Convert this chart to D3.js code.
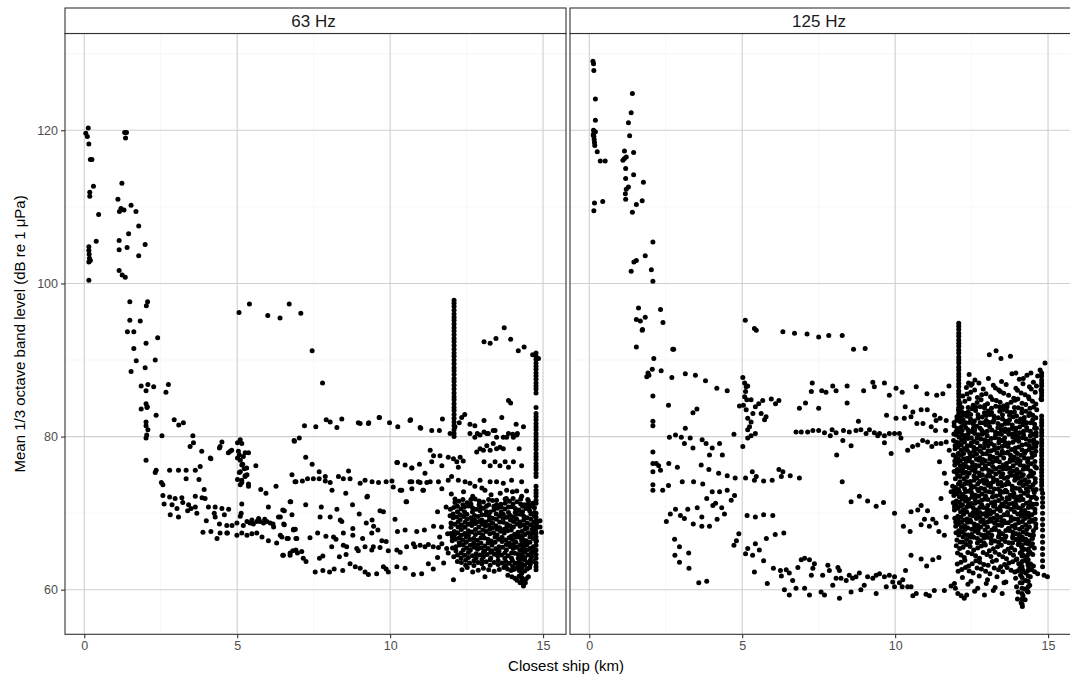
<!DOCTYPE html>
<html>
<head>
<meta charset="utf-8">
<script src="https://cdn.jsdelivr.net/npm/d3@7"></script>
<style>
  html, body { margin: 0; padding: 0; background: #ffffff; }
  svg { display: block; font-family: "Liberation Sans", Arial, sans-serif; }
</style>
</head>
<body>
<script>
// Facets, axis ticks
const facetLabels = ["63 Hz", "125 Hz"];
const xTickValues = [0, 5, 10, 15];
const yTickValues = [60, 80, 100, 120];
const xMinorValues = [2.5, 7.5, 12.5];
const yMinorValues = [70, 90, 110, 130];

// 63 Hz band: scattered readings, flat list of distance (km), level (dB) pairs
const level63 = [
  0.13,120.3, 0.05,119.6, 0.10,119.2, 0.15,118.2, 0.20,116.2, 0.25,116.2, 0.30,112.7, 0.18,111.9, 0.18,111.4, 0.47,109.0, 0.39,105.5, 0.15,104.8, 0.15,104.3, 0.16,103.8, 0.17,103.3, 0.15,102.8, 0.20,103.0, 0.15,100.4,
  1.32,119.7, 1.38,119.7, 1.35,119.0, 1.23,113.1, 1.10,111.0, 1.53,110.2, 1.20,109.8, 1.15,109.4, 1.30,109.6, 1.69,109.4, 1.78,107.5, 1.45,106.5, 1.14,105.6, 1.14,104.4, 1.40,104.7, 1.99,105.1, 1.78,103.6, 1.14,101.7, 1.24,101.1, 1.34,100.8,
  1.49,97.6, 2.07,97.6, 2.03,97.1, 1.49,95.2, 1.83,95.1, 1.41,93.7, 1.62,93.7, 2.40,92.9, 2.02,92.2, 1.62,91.5, 2.32,90.0, 1.70,89.9, 1.99,89.0, 1.53,88.5, 1.86,86.6, 2.08,86.8, 2.27,86.5, 2.75,86.8, 2.02,86.0, 2.67,85.8, 2.02,84.3, 2.05,83.8, 1.86,83.6, 2.06,83.9, 2.35,82.8, 2.94,82.2, 3.09,81.5, 3.24,81.8, 2.02,81.9, 2.08,80.9, 2.02,81.4, 2.54,80.1, 3.55,80.1, 2.02,79.8, 2.04,80.2,
  3.46,78.7, 3.84,78.1, 4.50,79.3, 4.42,78.5, 4.77,78.1, 4.14,77.1, 2.02,76.9, 2.35,75.6, 2.32,75.3, 2.79,75.6, 3.08,75.6, 3.33,75.6, 3.63,75.6, 3.79,76.1, 3.33,74.5, 3.75,74.4, 2.52,74.0, 2.57,73.7, 3.92,73.1, 2.57,72.3, 2.79,72.1, 2.97,71.9, 3.19,72.0, 3.63,72.2, 3.85,72.0, 3.95,71.9,
  2.61,71.2, 2.87,71.1, 3.03,70.6, 3.22,71.4, 3.41,71.1, 3.49,70.6, 3.63,70.8, 3.68,70.0, 4.06,70.8, 4.28,70.8, 4.50,70.6, 4.72,70.5, 2.81,69.8, 3.08,69.5, 3.38,70.3, 4.25,70.0, 4.28,69.5, 4.58,69.8, 3.99,69.0, 4.42,68.6, 3.88,67.5, 4.14,67.6, 4.34,66.7, 4.68,67.4,
  4.12,77.2, 3.57,79.2, 4.44,78.7, 4.71,77.9, 4.82,78.2,
  5.10,79.6, 5.15,79.1, 5.01,79.2, 5.04,78.1, 5.07,77.6, 5.20,77.4, 5.10,76.9, 5.15,76.3, 5.23,75.8, 5.10,75.4, 5.32,75.0, 5.15,74.3, 5.10,73.7, 5.37,73.5, 5.26,74.8, 5.26,77.9, 5.37,77.9, 5.01,77.2, 5.18,76.4, 5.31,75.9, 5.07,75.3, 5.26,74.9, 5.37,73.8, 5.15,74.0, 5.61,76.2, 5.01,74.4, 5.15,71.2, 5.13,70.0, 5.10,69.6,
  5.77,73.1, 5.94,72.6, 6.27,73.5, 6.02,70.8, 6.49,70.4, 6.73,71.5, 6.79,75.0, 6.89,74.1, 6.87,79.4, 7.03,79.8,
  5.32,68.9, 5.42,68.7, 5.53,68.6, 5.64,68.9, 5.75,68.9, 5.86,68.7, 5.97,68.9, 6.08,68.7, 6.19,68.2, 4.66,68.4, 4.83,68.4, 4.99,68.7, 5.20,68.4, 5.48,69.1, 5.70,69.3, 5.90,69.2,
  4.99,67.1, 5.15,67.4, 5.32,67.1, 5.48,67.3, 5.64,67.4, 5.81,66.9, 6.02,66.4, 6.29,66.1, 6.46,66.9, 6.67,66.7, 6.84,67.9, 6.95,66.7, 4.44,67.4, 4.66,67.4,
  6.49,64.5, 6.73,64.8, 6.82,65.1, 6.97,64.8, 6.17,68.6, 6.35,69.5, 6.52,68.6, 6.79,69.8, 6.90,67.9,
  5.06,96.2, 5.40,97.3, 6.00,95.8, 6.40,95.5, 6.70,97.3, 7.08,96.1, 7.45,91.2, 7.79,87.0,
  7.20,81.4, 7.57,81.3, 7.91,82.2, 8.04,81.9, 8.26,81.2, 8.42,82.3, 8.96,81.8, 9.30,81.8, 9.65,82.5, 9.98,81.8, 10.25,81.3, 10.67,82.2, 10.98,81.2, 11.36,80.8, 11.61,80.8, 11.71,82.3, 6.86,79.5,
  7.24,77.3, 7.45,76.4,
  6.92,74.1, 7.13,74.2, 7.30,74.5, 7.49,74.5, 7.68,75.4, 7.68,74.5, 7.88,74.8, 7.88,74.2, 8.04,74.0, 8.10,73.0, 8.31,74.8, 8.47,74.5, 8.64,75.5, 8.69,74.5, 8.55,72.6, 9.02,73.9, 9.18,74.3, 9.26,72.2, 9.41,74.1, 9.62,74.0, 9.87,74.1, 10.06,74.2, 10.10,73.4, 10.24,76.6, 10.38,73.0, 10.49,76.3, 10.52,71.5, 10.71,75.9, 10.71,74.1, 10.71,73.2, 10.96,76.4, 10.98,74.0, 11.07,73.0, 11.20,74.0,
  6.75,71.5, 6.54,70.3, 7.24,71.1, 7.75,70.8, 8.26,70.5, 8.77,71.1, 9.67,70.3, 9.78,70.2, 8.99,69.9, 10.16,69.2, 11.55,70.2, 11.83,70.8,
  6.41,69.5, 6.54,68.5, 7.71,69.5, 8.04,69.5, 8.37,69.1, 8.42,68.9, 9.41,69.1, 9.46,68.3, 9.22,68.7,
  6.84,67.8, 7.63,67.4, 7.38,66.8, 6.41,67.1, 6.63,66.7, 6.92,66.7, 7.90,67.0, 8.15,66.9, 8.23,66.6, 8.47,67.4, 8.78,68.0, 8.78,67.1, 9.10,66.7, 9.40,67.4, 9.60,67.8, 10.24,67.6, 10.49,67.8, 10.87,67.6, 11.12,67.8, 11.42,68.3, 11.68,68.2,
  6.51,64.5, 6.73,64.5, 6.92,65.2, 7.11,65.0, 7.25,63.7, 7.16,64.1, 7.69,64.1, 7.80,64.4, 8.09,65.6, 8.34,64.3, 8.47,65.8, 8.58,65.6, 8.56,64.6, 8.91,65.4, 8.96,65.1, 9.18,65.6, 9.45,65.6, 9.40,65.2, 9.67,65.5, 9.73,66.4, 9.87,66.3, 9.94,65.1, 10.22,65.2, 10.33,64.9, 10.54,65.6, 10.76,66.0, 10.81,65.6, 10.98,65.8, 11.14,65.6, 11.25,65.9, 11.41,65.6, 11.58,65.5, 11.69,66.0, 11.85,65.4,
  7.55,62.3, 7.80,62.5, 8.02,62.3, 8.17,62.7, 8.45,62.5, 8.69,63.4, 8.86,63.0, 9.02,62.8, 9.18,62.3, 9.29,62.0, 9.56,62.1, 9.78,63.0, 9.87,62.7, 9.94,62.3, 10.22,63.0, 10.49,62.8, 10.76,62.0, 11.03,62.1, 11.25,63.4, 11.41,62.7, 12.07,61.3,
  13.07,92.4, 13.27,92.2, 13.46,92.8, 13.73,94.2, 13.94,92.7, 14.19,91.2, 14.38,91.7, 14.66,90.7, 14.85,90.2, 13.87,84.7, 13.94,84.4,
  9.02,81.7, 9.29,81.7, 9.64,82.5, 10.65,82.1, 11.00,81.1, 11.96,80.4, 12.12,81.3, 12.26,81.8, 12.34,82.5, 12.44,82.9, 12.61,81.6, 12.77,81.4, 12.85,80.4, 13.07,82.1, 13.16,80.4, 13.43,80.8, 13.65,82.5, 13.81,79.9, 14.01,80.3, 14.12,81.6, 14.16,80.4, 14.36,81.3,
  11.31,78.2, 11.42,77.5, 11.36,76.7, 11.63,77.5, 11.69,76.2, 11.90,77.3, 12.07,77.1, 12.18,76.7, 12.29,77.3, 12.39,76.8, 12.23,76.0, 12.83,78.0, 12.94,78.4, 13.05,78.2, 13.16,78.8, 13.27,78.2, 13.37,79.1, 13.48,78.4, 13.59,78.6, 13.70,78.4, 13.07,76.7, 13.27,76.2, 13.43,76.7, 13.59,76.2, 13.76,76.7, 13.87,76.0, 14.03,76.7, 14.22,78.4, 14.30,76.2, 12.61,80.4, 12.77,79.9, 12.94,80.2, 13.07,80.6, 13.21,80.4, 13.37,80.8, 13.48,79.9, 13.70,79.9, 13.87,80.4, 14.03,79.9, 14.14,80.2,
  10.22,76.6, 10.71,75.9, 11.14,75.2, 11.31,74.1, 11.58,74.1, 11.69,73.2, 11.90,74.3, 12.01,74.8, 12.23,74.3, 12.45,74.1, 12.61,73.9, 12.77,73.5, 12.94,74.3, 13.10,73.0, 13.27,74.1, 13.48,74.1, 13.70,73.9, 13.81,73.0, 13.97,74.3, 14.14,72.9, 14.30,74.1, 14.46,72.9, 10.33,73.0, 10.65,74.1, 10.92,74.1, 11.09,73.0, 10.54,71.5, 9.24,72.1,
  12.00,72.5, 12.40,72.8, 12.70,72.2, 13.00,73.3, 13.30,72.4, 13.60,72.6, 13.80,71.9, 14.00,72.8, 14.30,72.2, 14.50,71.8, 14.90,69.0, 14.90,68.2, 14.95,67.5,
  11.55,64.2, 11.75,63.5, 11.90,64.8, 11.62,66.9, 11.88,67.3
];

// 63 Hz band: near-vertical runs of readings at one distance, [distance, level, level, ...]
const column63 = [
  [12.09, 97.8, 97.4, 97.0, 96.5, 96.0, 95.6, 95.2, 94.7, 94.2, 93.8, 93.3, 92.8, 92.4, 91.9, 91.4, 90.9, 90.5, 90.0, 89.5, 89.0, 88.6, 88.1, 87.6, 87.2, 86.7, 86.2, 85.7, 85.2, 84.8, 84.3, 83.8, 83.4, 82.9, 82.4, 81.9, 81.4, 80.9, 80.4, 80.0],
  [14.77, 90.9, 90.5, 90.1, 89.6, 89.2, 88.8, 88.3, 87.9, 87.5, 87.0, 86.6, 86.2, 85.7, 83.8, 83.0, 82.6, 82.2, 81.7, 81.3, 80.9, 80.4, 80.0, 79.6, 79.1, 78.7, 78.3, 77.8, 77.4, 77.0, 76.5, 76.1, 75.7, 75.2, 74.8, 73.5, 73.0, 72.6, 72.2, 71.7, 71.3, 70.0, 69.5, 69.0, 68.5, 68.0, 67.4, 66.9, 66.3, 65.8, 65.2, 64.6, 64.1, 63.5, 63.0, 62.6],
  [14.30, 67.0, 66.4, 65.8, 65.2, 64.6, 64.0, 63.4, 62.8, 62.2, 61.6, 61.0]
];

// 63 Hz band: dense readings between 12 and 15 km, flat distance, level pairs
const cluster63 = [
  12.12,71.4, 12.38,71.8, 12.64,71.2, 12.91,71.6, 13.22,71.1, 13.48,71.7, 13.76,71.3, 14.02,71.9, 14.27,71.2, 14.52,71.6,
  11.97,70.5, 12.20,70.9, 12.43,70.2, 12.69,70.7, 12.94,70.3, 13.15,70.9, 13.39,70.4, 13.63,70.8, 13.87,70.1, 14.09,70.6, 14.33,70.9, 14.56,70.3, 14.72,70.7,
  12.06,69.4, 12.29,69.8, 12.51,69.2, 12.76,69.7, 13.00,69.1, 13.24,69.6, 13.47,69.9, 13.70,69.3, 13.93,69.7, 14.14,69.2, 14.37,69.6, 14.60,69.9,
  11.99,68.7, 12.22,68.2, 12.45,68.8, 12.67,68.4, 12.90,68.9, 13.12,68.3, 13.35,68.7, 13.58,68.1, 13.81,68.6, 14.03,68.9, 14.25,68.3, 14.48,68.7, 14.70,68.2,
  12.10,67.6, 12.33,67.1, 12.56,67.7, 12.79,67.2, 13.03,67.8, 13.26,67.3, 13.50,67.9, 13.73,67.4, 13.96,67.0, 14.18,67.5, 14.41,67.9, 14.64,67.3,
  12.03,66.4, 12.26,66.8, 12.49,66.2, 12.73,66.7, 12.97,66.1, 13.20,66.6, 13.43,66.9, 13.66,66.3, 13.89,66.8, 14.11,66.2, 14.34,66.6, 14.57,66.9, 14.78,66.4,
  12.15,65.6, 12.39,65.2, 12.62,65.8, 12.86,65.3, 13.09,65.7, 13.33,65.1, 13.56,65.6, 13.80,65.9, 14.02,65.4, 14.24,65.8, 14.47,65.2, 14.68,65.6,
  12.08,64.3, 12.32,64.8, 12.56,64.2, 12.81,64.7, 13.05,64.3, 13.29,64.9, 13.52,64.4, 13.75,64.8, 13.97,64.1, 14.19,64.6, 14.40,64.9, 14.62,64.3,
  12.20,63.7, 12.47,63.2, 12.74,63.8, 13.00,63.4, 13.27,63.9, 13.53,63.3, 13.78,63.7, 14.00,63.1, 14.20,63.6, 14.40,63.9, 14.58,63.3,
  12.35,62.6, 12.70,62.3, 13.05,62.8, 13.40,62.4, 13.72,62.9, 13.95,62.5, 14.13,62.8, 14.30,62.2, 14.48,62.7,
  13.10,61.7, 13.85,61.9, 14.08,61.5, 14.22,61.8, 14.38,61.3, 14.52,61.7,
  14.25,60.9, 14.36,60.5, 14.42,60.9,
  12.25,71.55, 12.52,71.35, 12.78,71.85, 13.05,71.45, 13.35,71.65, 13.62,71.15, 13.90,71.55, 14.15,71.5, 14.40,71.1, 14.66,71.3,
  12.08,70.75, 12.32,70.55, 12.56,70.95, 12.81,70.5, 13.05,70.65, 13.27,70.15, 13.51,70.65, 13.75,70.55, 13.98,70.85, 14.21,70.4, 14.44,70.6, 14.66,70.95,
  11.96,69.65, 12.18,69.5, 12.40,69.55, 12.64,69.4, 12.88,69.55, 13.12,69.8, 13.35,69.35, 13.58,69.6, 13.81,69.45, 14.04,69.5, 14.26,69.85, 14.48,69.4, 14.72,69.6,
  12.11,68.55, 12.33,68.45, 12.56,68.55, 12.79,68.65, 13.01,68.55, 13.24,68.45, 13.46,68.35, 13.70,68.8, 13.92,68.35, 14.14,68.6, 14.37,68.45, 14.59,68.5, 14.80,68.8,
  11.98,67.35, 12.21,67.45, 12.44,67.35, 12.67,67.55, 12.91,67.45, 13.14,67.6, 13.38,67.45, 13.61,67.65, 13.85,67.7, 14.07,67.25, 14.30,67.6, 14.52,67.45, 14.75,67.7,
  12.14,66.6, 12.37,66.45, 12.61,66.55, 12.85,66.45, 13.08,66.75, 13.31,66.35, 13.55,66.6, 13.78,66.5, 14.00,66.55, 14.23,66.85, 14.45,66.4, 14.68,66.7,
  12.04,65.45, 12.27,65.85, 12.50,65.45, 12.74,65.55, 12.98,65.45, 13.21,65.4, 13.45,65.35, 13.68,65.55, 13.91,65.65, 14.13,65.55, 14.36,65.5, 14.58,65.4,
  12.20,64.55, 12.44,64.5, 12.69,64.45, 12.93,64.55, 13.17,64.6, 13.41,64.65, 13.64,64.55, 13.86,64.45, 14.08,64.75, 14.30,64.4, 14.51,64.55, 14.72,64.75,
  12.33,63.55, 12.60,63.5, 12.87,63.55, 13.14,63.65, 13.40,63.55, 13.66,63.5, 13.89,63.45, 14.10,63.45, 14.30,63.3, 14.49,63.55, 14.68,63.7,
  12.52,62.9, 12.88,62.55, 13.22,62.6, 13.57,62.65, 13.84,62.7, 14.04,62.65, 14.22,62.5, 14.40,62.45, 14.56,62.9,
  13.98,61.7, 14.15,61.25, 14.30,61.55, 14.45,61.45,
  12.12,71.85, 12.38,71.1, 12.64,71.8, 12.91,71.1, 13.22,71.8, 13.48,71.1, 13.76,71.85, 14.02,71.2, 14.27,71.85, 14.52,71.1,
  12.20,70.2, 12.43,70.85, 12.69,70.15, 12.94,70.85, 13.15,70.2, 13.39,70.9, 13.63,70.15, 13.87,70.8, 14.09,70.1, 14.33,70.2, 14.56,70.85, 14.72,70.1,
  12.06,69.9, 12.29,69.15, 12.51,69.85, 12.76,69.1, 13.00,69.8, 13.24,69.1, 13.47,69.2, 13.70,69.85, 13.93,69.1, 14.14,69.85, 14.37,69.1, 14.60,69.2,
  11.99,68.15, 12.22,68.85, 12.45,68.15, 12.67,68.9, 12.90,68.2, 13.12,68.85, 13.35,68.1, 13.58,68.85, 13.81,68.1, 14.03,68.2, 14.25,68.85, 14.48,68.1, 14.70,68.8,
  12.10,67.1, 12.33,67.85, 12.56,67.1, 12.79,67.85, 13.03,67.15, 13.26,67.9, 13.50,67.15, 13.73,67.9, 13.96,67.8, 14.18,67.05, 14.41,67.2, 14.64,67.85,
  12.03,66.9, 12.26,66.15, 12.49,66.85, 12.73,66.1, 12.97,66.8, 13.20,66.1, 13.43,66.2, 13.66,66.85, 13.89,66.1, 14.11,66.85, 14.34,66.1, 14.57,66.2,
  12.15,65.1, 12.39,65.85, 12.62,65.15, 12.86,65.85, 13.09,65.1, 13.33,65.85, 13.56,65.1, 13.80,65.2, 14.02,65.9, 14.24,65.15, 14.47,65.85, 14.68,65.1,
  12.32,64.15, 12.56,64.85, 12.81,64.1, 13.05,64.85, 13.29,64.15, 13.52,64.9, 13.75,64.1, 13.97,64.8, 14.19,64.1, 14.40,64.2, 14.62,64.85,
  12.47,63.85, 12.74,63.15, 13.00,63.9, 13.27,63.2, 13.53,63.85, 13.78,63.1, 14.00,63.8, 14.20,63.1, 14.40,63.2, 14.58,63.85
];

// 125 Hz band: scattered readings, flat list of distance (km), level (dB) pairs
const level125 = [
  0.12,129.0, 0.14,128.7, 0.15,127.8, 0.20,124.1, 0.20,121.3, 0.14,120.0, 0.15,119.6, 0.15,119.2, 0.16,118.8, 0.17,118.4, 0.18,118.0, 0.20,119.8, 0.13,119.4, 0.26,117.2, 0.36,116.0, 0.52,116.0, 0.17,110.5, 0.44,110.7, 0.15,109.5,
  1.41,124.8, 1.37,122.3, 1.28,121.0, 1.32,119.3, 1.15,117.3, 1.45,117.1, 1.10,116.1, 1.15,116.3, 1.21,116.5, 1.19,115.0, 1.45,114.2, 1.19,113.7, 1.77,113.2, 1.28,112.6, 1.21,112.3, 1.18,111.7, 1.19,111.0, 1.73,110.8, 1.54,110.3, 1.41,109.3,
  2.08,105.4, 1.83,103.6, 1.46,102.8, 1.54,103.0, 1.37,101.6, 2.03,101.8, 2.08,100.3,
  1.61,96.8, 2.33,96.6, 1.54,95.3, 1.67,95.1, 1.83,95.6, 2.41,94.9, 1.74,94.0, 1.54,91.7, 2.73,91.4, 1.73,93.9, 2.76,91.4, 2.11,90.2,
  1.92,88.3, 1.88,87.8, 1.95,88.0, 2.06,88.8, 2.35,88.6, 2.70,87.7, 3.14,88.2, 3.47,88.0, 3.80,87.3, 4.17,86.3, 4.51,86.0, 2.08,85.3, 2.59,84.1, 3.39,83.1, 3.52,83.6, 2.08,82.0, 2.08,81.4, 3.14,81.1,
  2.62,79.9, 2.82,80.2, 3.01,79.9, 3.11,79.1, 3.30,79.8, 3.39,78.5, 3.69,79.6, 3.82,79.1, 4.02,78.5, 4.26,79.1, 3.93,77.6, 4.35,77.6, 4.73,80.3, 5.02,78.7,
  2.08,78.0, 2.08,76.5, 2.08,75.4, 2.27,76.2, 2.33,75.6,
  5.10,95.2, 5.40,94.1, 5.46,93.9, 6.33,93.7, 6.71,93.5, 7.12,93.4, 7.50,93.0, 7.83,93.2, 8.27,93.2, 8.64,91.4, 9.02,91.5,
  5.02,87.7, 5.08,87.0, 5.13,86.5, 5.18,86.6, 5.11,85.9, 5.08,85.2, 5.15,84.8, 5.04,84.1, 5.13,83.5, 5.29,84.8, 5.43,83.9, 5.54,84.3, 5.67,84.7, 5.95,84.9, 6.09,84.3, 6.20,84.7, 5.78,82.6, 5.73,82.2, 5.62,83.0, 5.35,83.0, 5.18,82.4, 5.29,81.9, 5.24,81.3, 5.18,80.9, 5.29,80.1, 5.43,80.4, 5.18,79.8, 4.91,84.0,
  2.60,76.5, 2.19,76.5, 2.88,76.0, 3.66,76.3, 3.91,75.7, 4.23,75.2, 4.51,74.9, 4.77,74.6, 5.11,74.6, 5.33,75.4, 5.40,74.3, 5.46,74.8, 5.70,74.2, 5.98,74.3, 6.20,75.7, 6.33,75.4, 6.28,74.8, 6.57,74.9, 6.87,74.6,
  2.08,73.7, 2.08,73.0, 2.40,73.0, 2.59,73.6, 3.04,74.1, 3.41,74.1, 3.71,73.8, 4.02,72.8, 4.26,72.8, 4.51,73.0, 4.75,72.3, 4.64,71.7, 3.84,71.9, 4.13,71.3, 4.04,71.0, 4.33,70.7, 4.42,69.9, 4.18,69.2, 3.93,68.3, 3.68,68.3, 3.40,68.6, 3.68,69.5, 3.53,70.7, 3.22,70.5, 2.98,69.7, 2.82,70.5, 2.65,69.9, 2.52,68.9, 3.11,69.3, 2.80,64.5, 2.95,63.6, 3.26,62.8, 3.58,60.9, 3.84,61.1, 4.73,65.8, 4.81,66.4, 4.89,67.3, 5.16,69.7, 5.43,69.5, 5.70,69.8, 6.00,69.7, 6.08,67.2, 6.36,67.4, 5.79,66.7, 5.18,65.4, 5.43,66.0, 5.56,65.2, 5.11,64.7, 5.34,64.5, 5.70,63.8, 5.40,62.3, 5.82,60.8, 6.02,62.8, 6.25,62.5, 6.28,61.8,
  2.79,66.6, 2.95,65.6, 3.25,64.8,
  6.44,62.6, 6.54,62.2, 6.65,61.2, 6.38,60.0, 6.54,59.3, 6.76,60.2, 6.93,63.9, 6.82,62.9, 7.04,64.1, 7.20,63.9, 7.36,63.4, 7.31,62.8, 7.26,61.9, 7.04,60.2, 7.20,59.3, 7.58,59.7, 7.69,59.3, 7.63,61.9, 7.80,63.2, 7.85,62.5, 7.96,60.6, 8.13,62.9, 8.18,62.5, 8.07,61.5, 8.23,61.5, 8.40,61.2, 8.50,61.9, 8.61,61.5, 8.72,61.7, 8.83,62.2, 8.88,60.0, 8.99,60.6, 9.10,61.7, 9.27,61.5, 9.38,61.9, 8.18,58.9, 8.56,59.7, 9.38,59.5,
  9.49,62.1, 9.65,61.7, 9.81,61.9, 9.98,61.7, 9.92,61.0, 9.71,60.4, 9.98,60.4, 10.14,60.9, 10.25,61.3, 10.34,62.5, 10.52,64.5, 10.85,64.0, 11.03,63.1, 11.23,63.9, 11.43,64.2, 10.23,60.4, 10.41,60.4, 10.52,60.4, 10.69,59.5, 10.58,59.2, 11.01,59.4, 11.12,59.2, 11.28,59.9, 11.61,59.9, 11.83,60.5, 11.94,60.8, 12.05,59.5, 12.16,59.2, 12.26,58.9, 12.34,59.3, 11.97,60.2,
  7.29,87.0, 7.26,85.9, 7.60,86.0, 7.74,85.8, 7.96,86.6, 8.07,86.0, 8.43,86.6, 8.97,86.0, 9.27,87.1, 9.32,86.5, 6.87,83.7, 7.07,84.4, 7.50,83.7, 8.43,84.4, 8.80,82.0,
  6.76,80.6, 6.93,80.6, 7.14,80.6, 7.31,80.8, 7.50,80.8, 7.69,80.5, 7.88,80.1, 7.94,80.9, 8.07,80.5, 8.31,80.8, 8.50,80.6, 8.72,80.8, 8.88,80.9, 9.05,80.4, 9.16,80.9, 9.32,80.5, 9.43,80.1, 8.29,79.5, 8.56,78.8, 8.09,77.6, 8.27,74.1, 8.56,71.5, 8.83,72.2, 9.10,71.6, 9.38,70.9,
  9.65,87.0, 9.81,85.4, 10.03,86.3, 10.23,85.8, 10.69,86.5, 11.04,85.6, 11.36,85.4, 11.56,85.6, 11.76,86.6, 9.72,82.8, 10.03,82.4, 10.30,82.4, 10.33,83.9, 10.58,83.2, 10.52,82.6, 10.85,83.5, 11.05,83.5, 10.71,81.7, 10.91,81.7, 11.29,82.8, 11.34,82.1, 11.47,82.4, 11.67,82.1, 11.18,81.3, 11.32,80.8, 11.65,80.8,
  9.49,80.4, 9.65,80.1, 9.81,80.4, 9.98,80.4, 10.14,80.4, 10.19,79.8, 9.87,77.8, 9.65,79.2, 10.41,78.2, 10.57,78.7, 10.74,78.9, 10.90,79.5, 11.06,79.3, 11.20,78.7, 11.34,79.1, 11.50,79.1, 11.67,79.3, 11.77,78.2,
  11.45,76.7, 11.61,75.2, 11.67,73.9, 11.50,71.9, 9.62,71.4, 9.98,70.0, 10.52,70.2, 10.74,70.4, 10.85,71.0, 11.06,70.3, 10.96,69.2, 11.23,69.2, 11.34,68.7, 10.27,68.3, 10.49,67.6, 10.85,68.5, 11.12,68.3, 11.43,67.6, 11.61,67.1, 11.67,69.5, 11.88,73.5, 11.83,72.8, 11.94,73.0,
  13.08,90.7, 13.30,91.2, 13.46,90.2, 13.77,90.5, 13.95,88.3, 14.19,87.6, 14.44,88.3, 14.39,86.5, 14.66,87.9, 14.74,88.7, 14.90,89.6, 14.77,86.1, 14.77,84.9, 12.40,87.0, 12.48,86.7
];

// 125 Hz band: near-vertical runs of readings at one distance
const column125 = [
  [12.08, 94.8, 94.4, 94.0, 93.5, 93.1, 92.6, 92.2, 91.8, 91.3, 90.9, 90.4, 90.0, 89.6, 89.1, 88.7, 88.2, 87.8, 87.4, 86.9, 86.5, 86.0, 85.6, 85.2, 84.7, 84.3, 83.8, 83.4, 83.0, 82.5, 82.1],
  [14.79, 88.3, 87.9, 87.4, 87.0, 86.6, 86.1, 85.7, 85.3, 84.8, 82.7, 82.2, 81.8, 81.4, 80.9, 80.5, 80.1, 79.6, 79.2, 78.8, 78.3, 77.9, 77.5, 77.0, 76.6, 76.2, 75.7, 75.3, 74.9, 74.4, 74.0, 73.6, 73.1],
  [14.82, 72.6, 72.0, 71.4, 70.8, 70.0, 69.2, 68.5, 67.8, 67.0, 66.2, 65.4, 64.6, 63.8, 63.0],
  [14.15, 66.5, 65.8, 65.1, 64.4, 63.7, 63.0, 62.3, 61.6, 60.9, 60.2, 59.5, 58.8, 58.1],
  [14.35, 66.0, 65.3, 64.6, 63.9, 63.2, 62.5, 61.8, 61.1, 60.4, 59.7]
];

// 125 Hz band: dense readings between 12 and 15 km, flat distance, level pairs
const cluster125 = [
  12.42,88.1, 12.61,87.4, 12.74,87.0, 13.05,87.6, 13.48,87.2, 13.82,88.2, 14.06,87.5, 14.31,88.0, 14.52,87.1,
  12.33,86.4, 12.52,86.9, 12.88,86.2, 13.21,86.7, 13.39,86.1, 13.63,86.8, 13.95,86.3, 14.18,86.9, 14.45,86.2, 14.62,86.6,
  12.21,85.3, 12.47,85.8, 12.69,85.1, 12.97,85.6, 13.12,85.2, 13.44,85.9, 13.71,85.4, 13.88,85.0, 14.12,85.7, 14.36,85.2, 14.58,85.8,
  12.28,84.6, 12.55,84.1, 12.81,84.8, 13.02,84.3, 13.31,84.7, 13.55,84.0, 13.79,84.5, 14.01,84.9, 14.27,84.2, 14.49,84.6,
  12.18,83.2, 12.39,83.8, 12.63,83.4, 12.92,83.1, 13.15,83.7, 13.42,83.3, 13.66,83.9, 13.90,83.2, 14.14,83.6, 14.41,83.0, 14.63,83.5,
  12.02,82.6, 12.22,82.2, 12.47,82.9, 12.71,82.4, 12.98,82.1, 13.23,82.7, 13.51,82.3, 13.74,82.8, 13.97,82.0, 14.22,82.5, 14.50,82.2,
  11.93,81.4, 12.14,81.9, 12.31,81.2, 12.56,81.6, 12.78,81.1, 12.89,81.8, 13.09,81.3, 13.36,81.7, 13.60,81.0, 13.83,81.5, 14.07,81.9, 14.30,81.2, 14.56,81.6,
  12.00,80.7, 12.19,80.2, 12.38,80.9, 12.60,80.4, 12.84,80.8, 13.01,80.1, 13.28,80.6, 13.47,80.3, 13.72,80.9, 13.94,80.2, 14.20,80.7, 14.42,80.1, 14.61,80.5,
  11.91,79.5, 12.09,79.9, 12.27,79.3, 12.49,79.8, 12.68,79.2, 12.93,79.6, 13.14,79.1, 13.39,79.7, 13.58,79.3, 13.85,79.9, 14.04,79.4, 14.28,79.0, 14.53,79.6,
  11.96,78.4, 12.16,78.9, 12.36,78.2, 12.57,78.6, 12.79,78.1, 13.04,78.8, 13.24,78.3, 13.50,78.7, 13.69,78.0, 13.93,78.5, 14.15,78.9, 14.38,78.3, 14.60,78.7,
  11.90,77.6, 12.06,77.1, 12.24,77.8, 12.44,77.3, 12.66,77.7, 12.87,77.0, 13.10,77.5, 13.33,77.9, 13.55,77.2, 13.77,77.6, 14.00,77.1, 14.23,77.8, 14.47,77.3,
  11.95,76.3, 12.13,76.8, 12.33,76.1, 12.52,76.6, 12.74,76.9, 12.95,76.2, 13.19,76.7, 13.41,76.0, 13.64,76.5, 13.86,76.9, 14.09,76.3, 14.33,76.7, 14.57,76.1,
  12.03,75.7, 12.21,75.2, 12.42,75.9, 12.62,75.4, 12.85,75.0, 13.06,75.6, 13.29,75.1, 13.52,75.8, 13.75,75.3, 13.98,75.7, 14.19,75.0, 14.43,75.5, 14.62,75.9,
  11.97,74.5, 12.12,74.1, 12.35,74.8, 12.58,74.3, 12.77,74.9, 12.99,74.2, 13.21,74.6, 13.46,74.0, 13.68,74.7, 13.91,74.3, 14.13,74.8, 14.37,74.1, 14.58,74.5,
  12.07,73.8, 12.27,73.2, 12.48,73.6, 12.70,73.1, 12.92,73.9, 13.13,73.4, 13.37,73.8, 13.61,73.0, 13.83,73.5, 14.06,73.9, 14.29,73.2, 14.51,73.7,
  11.92,72.3, 12.10,72.8, 12.30,72.1, 12.51,72.6, 12.73,72.9, 12.96,72.2, 13.18,72.7, 13.43,72.4, 13.66,72.0, 13.88,72.6, 14.10,72.9, 14.34,72.3, 14.55,72.7,
  12.00,71.6, 12.20,71.1, 12.40,71.8, 12.61,71.3, 12.83,71.7, 13.03,71.0, 13.26,71.5, 13.49,71.9, 13.73,71.2, 13.95,71.6, 14.18,71.0, 14.40,71.5, 14.62,71.9,
  11.94,70.4, 12.14,70.9, 12.34,70.2, 12.55,70.7, 12.77,70.1, 12.99,70.6, 13.22,70.9, 13.44,70.3, 13.67,70.8, 13.90,70.2, 14.12,70.6, 14.36,70.0, 14.57,70.5,
  12.05,69.6, 12.24,69.1, 12.45,69.8, 12.66,69.3, 12.88,69.9, 13.11,69.2, 13.33,69.7, 13.56,69.0, 13.79,69.5, 14.01,69.9, 14.24,69.3, 14.47,69.8,
  11.98,68.3, 12.17,68.8, 12.37,68.1, 12.59,68.6, 12.80,68.9, 13.02,68.2, 13.25,68.7, 13.48,68.4, 13.70,68.0, 13.93,68.5, 14.16,68.9, 14.39,68.2, 14.60,68.6,
  12.08,67.7, 12.28,67.2, 12.50,67.9, 12.72,67.4, 12.94,67.8, 13.16,67.1, 13.40,67.6, 13.62,67.0, 13.85,67.5, 14.07,67.9, 14.30,67.3, 14.52,67.7,
  12.02,66.5, 12.22,66.9, 12.46,66.2, 12.69,66.7, 12.91,66.1, 13.14,66.6, 13.38,66.9, 13.60,66.3, 13.84,66.8, 14.05,66.2, 14.27,66.6, 14.49,66.0,
  12.11,65.4, 12.33,65.9, 12.57,65.2, 12.82,65.7, 13.08,65.1, 13.35,65.6, 13.58,65.0, 13.80,65.5, 14.02,65.9, 14.22,65.3, 14.44,65.7,
  12.04,64.8, 12.26,64.2, 12.51,64.7, 12.76,64.1, 13.00,64.6, 13.27,64.9, 13.52,64.3, 13.76,64.8, 13.98,64.0, 14.19,64.5, 14.41,64.9,
  12.15,63.6, 12.40,63.1, 12.64,63.8, 12.90,63.3, 13.18,63.7, 13.45,63.0, 13.72,63.5, 13.95,63.9, 14.12,63.2, 14.33,63.6, 14.52,63.1,
  12.06,62.4, 12.30,62.9, 12.55,62.2, 12.82,62.7, 13.10,62.1, 13.38,62.6, 13.66,62.9, 13.91,62.3, 14.08,62.8, 14.27,62.2, 14.46,62.6, 14.66,62.1,
  12.20,61.6, 12.48,61.1, 12.75,61.8, 13.02,61.3, 13.33,61.7, 13.62,61.0, 13.94,61.5, 14.10,61.9, 14.26,61.2, 14.42,61.7, 14.87,61.9, 14.98,61.7,
  12.38,60.7, 12.70,60.2, 12.98,60.8, 13.27,60.3, 13.56,60.9, 13.97,60.4, 14.09,60.9, 14.24,60.1, 14.40,60.6,
  12.60,59.8, 12.92,59.3, 13.21,59.9, 13.50,59.5, 14.02,59.7, 14.18,59.2, 14.32,59.8,
  14.00,58.8, 14.12,58.3, 14.25,58.7, 14.16,57.8,
  12.35,85.55, 12.60,86.1, 12.83,85.45, 13.28,86.35, 13.55,85.65, 14.00,86.05, 14.25,85.45,
  12.12,84.35, 12.42,84.95, 12.68,84.45, 12.93,84.05, 13.18,84.85, 13.43,84.5, 13.66,84.2, 13.92,84.75, 14.15,84.35, 14.38,84.95, 14.60,84.25,
  12.08,83.55, 12.29,83.05, 12.52,83.65, 12.78,83.9, 13.04,83.35, 13.29,83.95, 13.54,83.55, 13.78,83.15, 14.02,83.75, 14.28,83.3, 14.53,83.85,
  12.12,82.45, 12.35,82.65, 12.59,82.05, 12.85,82.55, 13.10,82.9, 13.37,82.45, 13.62,82.0, 13.86,82.6, 14.10,82.3, 14.37,82.75, 14.60,82.45,
  12.03,81.05, 12.22,81.55, 12.43,81.85, 12.67,81.35, 12.97,81.55, 13.20,81.9, 13.48,81.45, 13.70,81.75, 13.95,81.1, 14.18,81.55, 14.43,81.8, 14.62,81.1,
  11.92,80.35, 12.10,80.55, 12.29,80.15, 12.49,80.65, 12.72,80.25, 12.93,80.5, 13.16,80.85, 13.37,80.4, 13.60,80.65, 13.83,80.35, 14.07,80.5, 14.31,80.85, 14.52,80.3,
  12.00,79.25, 12.18,79.55, 12.38,79.75, 12.58,79.35, 12.80,79.7, 13.03,79.4, 13.26,79.85, 13.48,79.5, 13.72,79.15, 13.95,79.6, 14.16,79.85, 14.40,79.45, 14.63,79.2,
  12.05,78.65, 12.26,78.45, 12.47,78.85, 12.68,78.35, 12.90,78.55, 13.14,78.15, 13.37,78.5, 13.60,78.85, 13.81,78.3, 14.04,78.65, 14.27,78.1, 14.49,78.5,
  11.98,77.35, 12.15,77.55, 12.34,77.15, 12.55,77.5, 12.77,77.25, 12.98,77.75, 13.21,77.3, 13.44,77.6, 13.66,77.85, 13.89,77.35, 14.12,77.55, 14.35,77.1, 14.56,77.6,
  12.04,76.55, 12.23,76.35, 12.43,76.85, 12.63,76.25, 12.85,76.55, 13.07,76.45, 13.30,76.85, 13.53,76.3, 13.75,76.75, 13.98,76.55, 14.21,76.15, 14.45,76.45,
  11.93,75.45, 12.12,75.55, 12.32,75.35, 12.52,75.65, 12.74,75.25, 12.96,75.85, 13.17,75.45, 13.41,75.35, 13.63,75.8, 13.87,75.5, 14.09,75.3, 14.32,75.8, 14.53,75.25,
  12.06,74.85, 12.25,74.5, 12.46,74.15, 12.67,74.6, 12.88,74.35, 13.10,74.85, 13.33,74.3, 13.57,74.55, 13.80,74.95, 14.02,74.55, 14.25,74.35, 14.48,74.85,
  11.97,73.35, 12.17,73.55, 12.37,73.9, 12.59,73.45, 12.81,73.25, 13.03,73.65, 13.25,73.15, 13.49,73.55, 13.72,73.85, 13.95,73.25, 14.18,73.6, 14.40,73.4, 14.61,73.1,
  12.01,72.55, 12.20,72.45, 12.40,72.85, 12.62,72.35, 12.84,72.5, 13.07,72.8, 13.30,72.25, 13.55,72.75, 13.77,72.35, 13.99,72.1, 14.22,72.6, 14.45,72.05,
  11.90,71.35, 12.10,71.45, 12.30,71.6, 12.50,71.25, 12.72,71.45, 12.93,71.85, 13.15,71.35, 13.38,71.65, 13.61,71.45, 13.84,71.25, 14.07,71.7, 14.29,71.3, 14.51,71.15,
  12.04,70.65, 12.24,70.45, 12.44,70.95, 12.66,70.4, 12.88,70.75, 13.10,70.35, 13.33,70.55, 13.56,70.95, 13.79,70.5, 14.01,70.75, 14.24,70.35, 14.47,70.8,
  11.95,69.35, 12.14,69.45, 12.35,69.25, 12.55,69.65, 12.77,69.45, 12.99,69.6, 13.22,69.35, 13.45,69.45, 13.67,69.8, 13.90,69.25, 14.13,69.6, 14.36,69.45, 14.58,69.2,
  12.07,68.55, 12.27,68.35, 12.48,68.85, 12.70,68.4, 12.91,68.55, 13.13,68.95, 13.36,68.45, 13.59,68.75, 13.82,68.3, 14.04,68.75, 14.27,68.5, 14.50,68.95,
  11.99,67.45, 12.18,67.55, 12.39,67.15, 12.61,67.65, 12.83,67.15, 13.05,67.45, 13.28,67.85, 13.51,67.3, 13.74,67.75, 13.96,67.3, 14.19,67.55, 14.41,67.15,
  12.12,66.25, 12.34,66.55, 12.57,66.85, 12.80,66.4, 13.02,66.85, 13.26,66.35, 13.49,66.6, 13.72,66.15, 13.95,66.55, 14.16,66.85, 14.38,66.35,
  12.00,65.75, 12.22,65.55, 12.45,65.65, 12.70,65.45, 12.95,65.85, 13.21,65.35, 13.47,65.8, 13.69,65.3, 13.91,65.2, 14.13,65.6, 14.35,65.15, 14.55,65.45,
  12.15,64.55, 12.38,64.85, 12.63,64.45, 12.88,64.85, 13.13,64.35, 13.40,64.6, 13.64,64.05, 13.87,64.5, 14.09,64.8, 14.30,64.25, 14.50,64.6,
  12.03,63.35, 12.28,63.85, 12.52,63.4, 12.77,63.6, 13.04,63.2, 13.31,63.85, 13.58,63.3, 13.84,63.65, 14.04,63.4, 14.24,63.85, 14.43,63.35,
  12.18,62.65, 12.42,62.45, 12.68,62.85, 12.96,62.4, 13.24,62.85, 13.52,62.35, 13.79,62.55, 14.00,62.45, 14.18,62.55, 14.37,62.85, 14.56,62.35,
  12.18,83.8, 12.39,83.2, 12.63,83.85, 12.92,83.75, 13.15,83.15, 13.42,83.85, 13.66,83.3, 13.90,83.8, 14.14,83.1, 14.41,83.7,
  12.02,82.15, 12.22,82.8, 12.47,82.25, 12.71,82.85, 12.98,82.75, 13.23,82.15, 13.51,82.85, 13.74,82.2, 13.97,82.7, 14.22,82.05, 14.50,82.8,
  11.93,81.85, 12.14,81.2, 12.31,81.8, 12.56,81.1, 12.78,81.8, 13.09,81.85, 13.36,81.15, 13.60,81.7, 13.83,81.05, 14.07,81.25, 14.30,81.8, 14.56,81.1,
  12.00,80.2, 12.19,80.8, 12.38,80.3, 12.60,80.85, 12.84,80.3, 13.01,80.7, 13.28,80.15, 13.47,80.85, 13.72,80.3, 13.94,80.75, 14.20,80.2, 14.42,80.7, 14.61,80.1,
  12.09,79.2, 12.27,79.85, 12.49,79.15, 12.68,79.8, 12.93,79.1, 13.14,79.75, 13.39,79.2, 13.58,79.85, 13.85,79.25, 14.04,79.9, 14.28,79.7, 14.53,79.1,
  11.96,78.85, 12.16,78.2, 12.36,78.8, 12.57,78.1, 12.79,78.75, 13.04,78.15, 13.24,78.85, 13.50,78.1, 13.69,78.7, 13.93,78.05, 14.15,78.25, 14.38,78.85, 14.60,78.1,
  12.06,77.8, 12.24,77.1, 12.44,77.85, 12.66,77.05, 12.87,77.75, 13.10,77.1, 13.33,77.2, 13.55,77.85, 13.77,77.05, 14.00,77.8, 14.23,77.2, 14.47,77.85,
  11.95,76.8, 12.13,76.15, 12.33,76.75, 12.52,76.1, 12.74,76.2, 12.95,76.85, 13.19,76.1, 13.41,76.7, 13.64,76.05, 13.86,76.2, 14.09,76.85, 14.33,76.1, 14.57,76.75,
  12.03,75.15, 12.21,75.8, 12.42,75.2, 12.62,75.85, 12.85,75.75, 13.06,75.1, 13.29,75.8, 13.52,75.15, 13.75,75.85, 13.98,75.1, 14.19,75.75, 14.43,75.05,
  12.12,74.8, 12.35,74.1, 12.58,74.85, 12.77,74.15, 12.99,74.8, 13.21,74.1, 13.46,74.75, 13.68,74.1, 13.91,74.85, 14.13,74.15, 14.37,74.8, 14.58,74.05,
  12.07,73.1, 12.27,73.85, 12.48,73.1, 12.70,73.8, 12.92,73.15, 13.13,73.9, 13.37,73.15, 13.61,73.75, 13.83,73.05, 14.06,73.2, 14.29,73.85, 14.51,73.1,
  11.92,72.85, 12.10,72.15, 12.30,72.8, 12.51,72.1, 12.73,72.2, 12.96,72.85, 13.18,72.1, 13.43,72.9, 13.66,72.75, 13.88,72.1, 14.10,72.2, 14.34,72.85, 14.55,72.15,
  12.00,71.1, 12.20,71.85, 12.40,71.15, 12.61,71.85, 12.83,71.1, 13.03,71.8, 13.26,71.05, 13.49,71.2, 13.73,71.85, 13.95,71.1, 14.18,71.8, 14.40,71.05, 14.62,71.2,
  11.94,70.85, 12.14,70.2, 12.34,70.8, 12.55,70.1, 12.77,70.75, 12.99,70.1, 13.22,70.15, 13.44,70.85, 13.67,70.1, 13.90,70.8, 14.12,70.1, 14.36,70.75, 14.57,70.05,
  12.05,69.1, 12.24,69.85, 12.45,69.15, 12.66,69.85, 12.88,69.1, 13.11,69.85, 13.33,69.1, 13.56,69.8, 13.79,69.05, 14.01,69.2, 14.24,69.85, 14.47,69.1,
  11.98,68.85, 12.17,68.15, 12.37,68.8, 12.59,68.1, 12.80,68.2, 13.02,68.85, 13.25,68.1, 13.48,68.9, 13.70,68.75, 13.93,68.05, 14.16,68.2, 14.39,68.85, 14.60,68.1,
  12.08,67.15, 12.28,67.85, 12.50,67.2, 12.72,67.9, 12.94,67.1, 13.16,67.8, 13.40,67.1, 13.62,67.75, 13.85,67.05, 14.07,67.2, 14.30,67.85, 14.52,67.1,
  12.22,66.2, 12.46,66.85, 12.69,66.1, 12.91,66.8, 13.14,66.1, 13.38,66.2, 13.60,66.85, 13.84,66.15, 14.05,66.8, 14.27,66.1, 14.49,66.7
];

// Collect every reading of a band as {x, y}
function collect(flat, columns, dense) {
  const pts = [];
  for (let i = 0; i < flat.length; i += 2) pts.push({x: flat[i], y: flat[i + 1]});
  columns.forEach(c => c.slice(1).forEach(v => pts.push({x: c[0], y: v})));
  for (let i = 0; i < dense.length; i += 2) pts.push({x: dense[i], y: dense[i + 1]});
  return pts;
}
const bands = [
  collect(level63, column63, cluster63),
  collect(level125, column125, cluster125)
];

// Layout
const W = 1070, H = 683;
const panelTop = 33.5, panelBottom = 634.3, stripTop = 8;
const panelX = [[65, 566], [570, 1071]];
const xDomain = [-0.63, 15.75];
const yDomain = [54.18, 132.64];

const svg = d3.select("body").append("svg")
  .attr("width", W).attr("height", H);

const y = d3.scaleLinear().domain(yDomain).range([panelBottom, panelTop]);

bands.forEach((pts, i) => {
  const [x0, x1] = panelX[i];
  const x = d3.scaleLinear().domain(xDomain).range([x0, x1]);
  const g = svg.append("g");

  // panel background
  g.append("rect").attr("x", x0).attr("y", panelTop)
    .attr("width", x1 - x0).attr("height", panelBottom - panelTop)
    .attr("fill", "#ffffff");

  // minor grid
  g.selectAll(".xminor").data(xMinorValues).join("line")
    .attr("x1", d => x(d)).attr("x2", d => x(d))
    .attr("y1", panelTop).attr("y2", panelBottom)
    .attr("stroke", "#f2f2f2").attr("stroke-width", 0.6);
  g.selectAll(".yminor").data(yMinorValues).join("line")
    .attr("x1", x0).attr("x2", x1)
    .attr("y1", d => y(d)).attr("y2", d => y(d))
    .attr("stroke", "#f2f2f2").attr("stroke-width", 0.6);

  // major grid
  g.selectAll(".xmajor").data(xTickValues).join("line")
    .attr("x1", d => x(d)).attr("x2", d => x(d))
    .attr("y1", panelTop).attr("y2", panelBottom)
    .attr("stroke", "#cfcfcf").attr("stroke-width", 1.1);
  g.selectAll(".ymajor").data(yTickValues).join("line")
    .attr("x1", x0).attr("x2", x1)
    .attr("y1", d => y(d)).attr("y2", d => y(d))
    .attr("stroke", "#cfcfcf").attr("stroke-width", 1.1);

  // readings
  g.append("g").selectAll("circle").data(pts).join("circle")
    .attr("cx", d => x(d.x)).attr("cy", d => y(d.y))
    .attr("r", 2.5).attr("fill", "#000000");

  // panel border
  g.append("rect").attr("x", x0).attr("y", panelTop)
    .attr("width", x1 - x0).attr("height", panelBottom - panelTop)
    .attr("fill", "none").attr("stroke", "#333333").attr("stroke-width", 1.1);

  // strip
  g.append("rect").attr("x", x0).attr("y", stripTop)
    .attr("width", x1 - x0).attr("height", panelTop - stripTop)
    .attr("fill", "#ffffff").attr("stroke", "#333333").attr("stroke-width", 1.1);
  g.append("text").attr("x", (x0 + Math.min(x1, W)) / 2 - (i === 1 ? 1 : 2))
    .attr("y", (stripTop + panelTop) / 2)
    .attr("dy", "0.36em").attr("text-anchor", "middle")
    .attr("font-size", 17).attr("fill", "#1a1a1a")
    .text(facetLabels[i]);

  // x axis
  const xAxis = d3.axisBottom(x).tickValues(xTickValues).tickSize(4).tickPadding(3).tickFormat(d3.format("d"));
  const ax = g.append("g").attr("transform", `translate(0,${panelBottom})`).call(xAxis);
  ax.select(".domain").remove();
  ax.selectAll("line").attr("stroke", "#333333").attr("stroke-width", 1.1);
  ax.selectAll("text").attr("font-size", 12.5).attr("fill", "#4d4d4d")
    .attr("font-family", "'Liberation Sans', Arial, sans-serif");

  // y axis on the first panel only
  if (i === 0) {
    const yAxis = d3.axisLeft(y).tickValues(yTickValues).tickSize(4).tickPadding(3).tickFormat(d3.format("d"));
    const ay = g.append("g").attr("transform", `translate(${x0},0)`).call(yAxis);
    ay.select(".domain").remove();
    ay.selectAll("line").attr("stroke", "#333333").attr("stroke-width", 1.1);
    ay.selectAll("text").attr("font-size", 12.5).attr("fill", "#4d4d4d")
      .attr("font-family", "'Liberation Sans', Arial, sans-serif");
  }
});

// axis titles
svg.append("text").attr("x", 566).attr("y", 671)
  .attr("text-anchor", "middle").attr("font-size", 15).attr("fill", "#000000")
  .text("Closest ship (km)");
svg.append("text")
  .attr("transform", `translate(25,${(panelTop + panelBottom) / 2}) rotate(-90)`)
  .attr("text-anchor", "middle").attr("font-size", 15).attr("fill", "#000000")
  .text("Mean 1/3 octave band level (dB re 1 μPa)");
</script>
</body>
</html>
